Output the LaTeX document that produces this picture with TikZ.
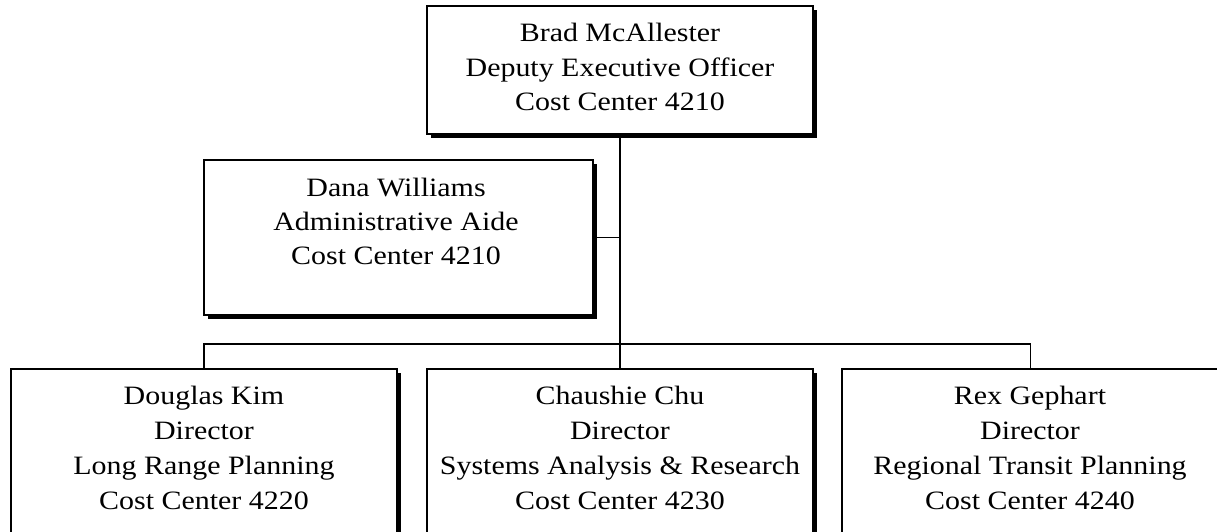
\documentclass[tikz,border=0pt]{standalone}
\usepackage{fontspec}
\setmainfont[FakeStretch=1.13]{Liberation Serif}
\usetikzlibrary{shadows}
\begin{document}
\begin{tikzpicture}[x=1pt,y=-1pt,
  box/.style={draw=black, fill=white, line width=1.5pt, inner sep=0pt, outer sep=0pt,
    anchor=north west, general shadow={fill=black, shadow xshift=4pt, shadow yshift=-4pt}},
  lbl/.style={anchor=base, inner sep=0pt, font=\fontsize{26.5pt}{34pt}\selectfont},
  conn/.style={draw=black, line width=1.8pt}]
\useasboundingbox (0,0) rectangle (1217,532);
\clip (0,0) rectangle (1217,532);
% boxes
\node[box, minimum width=386pt, minimum height=128pt] (top) at (427,6) {};
\node[box, minimum width=389pt, minimum height=155pt] (dana) at (204,160) {};
\node[box, minimum width=386pt, minimum height=170pt] (doug) at (11,369) {};
\node[box, minimum width=386pt, minimum height=170pt] (chau) at (427,369) {};
\node[box, minimum width=377pt, minimum height=170pt] (rex) at (842,369) {};
% connectors
\coordinate (busL) at (204,344);
\draw[conn] (top.south) -- (chau.north);
\draw[conn] (dana.east) -- (dana.east -| top.south);
\draw[conn] (doug.north) -- (busL) -| (rex.north);
% texts
\foreach \t [count=\i] in {Brad McAllester, Deputy Executive Officer, Cost Center 4210}
  \node[lbl] (topL\i) at (620,{42+34.5*(\i-1)}) {\t};
\foreach \t [count=\i] in {Dana Williams, Administrative Aide, Cost Center 4210}
  \node[lbl] (danaL\i) at (396,{196+34*(\i-1)}) {\t};
\foreach \t [count=\i] in {Douglas Kim, Director, Long Range Planning, Cost Center 4220}
  \node[lbl] (dougL\i) at (204,{404+35*(\i-1)}) {\t};
\foreach \t [count=\i] in {Chaushie Chu, Director, Systems Analysis \& Research, Cost Center 4230}
  \node[lbl] (chauL\i) at (620,{404+35*(\i-1)}) {\t};
\foreach \t [count=\i] in {Rex Gephart, Director, Regional Transit Planning, Cost Center 4240}
  \node[lbl] (rexL\i) at (1030,{404+35*(\i-1)}) {\t};
\end{tikzpicture}
\end{document}
